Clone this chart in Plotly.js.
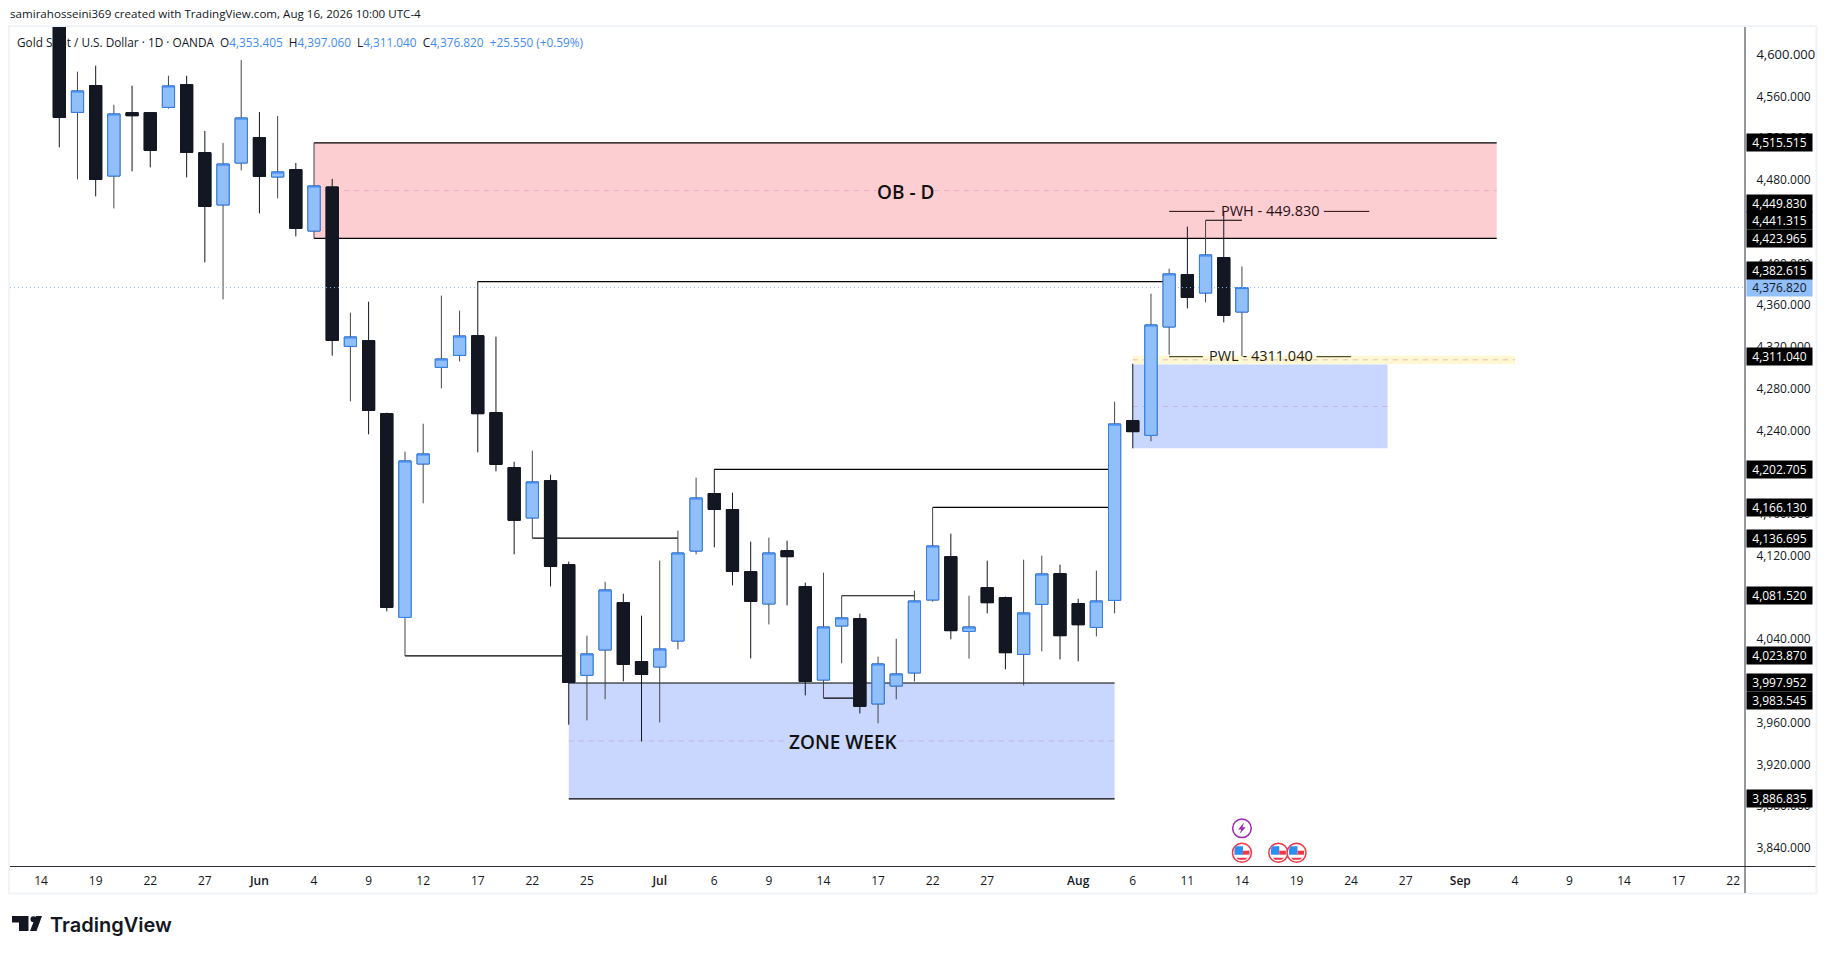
<!DOCTYPE html>
<html>
<head>
<meta charset="utf-8">
<script src="https://cdn.plot.ly/plotly-3.0.1.min.js"></script>
<style>html,body{margin:0;padding:0;background:#fff}#chart{width:1827px;height:954px}</style>
</head>
<body>
<div id="chart"></div>
<script>
// ---- candle values (one entry per trading day, left to right) ----
const opens = [4640,4544.7,4570.3,4483.7,4544.4,4544.4,4549.5,4571.2,4506.1,4456,4496.2,4520.4,4482.8,4489.8,4431,4473.2,
  4320.5,4325.9,4256,4060.8,4207.8,4300.4,4311.9,4330.7,4257,4204.3,4156.1,4191.8,4111.3,4005.3,4029.6,4074.9,4018.4,4013.3,
  4038.2,4124.4,4179.4,4164,4104.6,4073.7,4124.7,4090.2,4000.8,4052.6,4059.6,3977.9,3995.1,4007.6,4077.5,4119,4047.4,4089.3,
  4079.7,4025.4,4073.3,4102.7,4074,4051.2,4077.1,4249.3,4235.2,4339.1,4389.2,4371.6,4405.5,4353.405];
const closes = [4539.9,4565.2,4480.5,4543.2,4541.5,4508.3,4570,4506.4,4454.6,4495.2,4539.3,4483.4,4487.6,4433.5,4474.2,4326.2,
  4329.5,4259.2,4070.4,4210.7,4217.4,4308.4,4330.4,4256,4207.4,4153.8,4190.6,4109.7,3998.6,4025.8,4087.1,4015.8,4006.2,4030.5,
  4122.5,4175.2,4164.3,4104.9,4076.2,4122.5,4119,3999.5,4051.6,4060.3,3975.6,4016.2,4006.6,4076.5,4129.2,4048.1,4051.6,4074.9,
  4027,4065,4102.4,4043.3,4053.8,4076.5,4246.1,4238.8,4341,4389.9,4367.4,4408.1,4350.2,4376.82];
const highs = [4655,4583.7,4589.4,4552,4570.3,4544.4,4579.8,4579.8,4526.9,4515.4,4594.9,4545.1,4541.2,4496.2,4515.515,4480.9,
  4352.8,4363.3,4257,4219.6,4246.4,4369.1,4354.7,4382.615,4329.8,4210,4220.5,4197.6,4114.2,4043.3,4095,4083.5,4062.5,4115.2,
  4143.9,4194.7,4202.705,4180.3,4133.4,4137.2,4134.3,4094.1,4103.7,4081.52,4064.4,4023.2,4040.4,4086.4,4166.13,4141,4081.6,4115.2,
  4080.7,4116.1,4120,4111.3,4078.7,4105.6,4267.5,4303.9,4371,4394.9,4435.2,4441.315,4449.83,4397.06];
const lows = [4511.2,4480.5,4464.2,4452.7,4488.2,4492,4548.2,4482.4,4401,4365.5,4489.1,4447.9,4462.3,4425.9,4423.965,4311.6,
  4267.8,4236.2,4066.6,4023.87,4170.1,4280.2,4306.1,4218.9,4200.7,4121.2,4136.695,4090.5,3958,3962.1,3982.3,3999.5,3942,3960.2,
  4030.2,4121.2,4127.9,4091.5,4021.5,4054.1,4072.3,3986.1,3983.545,4016.8,3968.8,3959.3,3982.3,3999.5,4075.9,4039.8,4021.3,4064.7,
  4011,3995.7,4028.3,4020.6,4018.7,4042.6,4064.7,4222.8,4229.5,4312.5,4356.9,4362.6,4343.5,4311.04];

// ---- axes text ----
const dayTickIndex = [-1,2,5,8,11,14,17,20,23,26,29,33,36,39,42,45,48,51,56,59,62,65,68,71,74,77,80,83,86,89,92];
const dayTickLabels = ['14','19','22','27','Jun','4','9','12','17','22','25','Jul','6','9','14','17','22','27','Aug','6','11','14','19','24','27','Sep','4','9','14','17','22'];
const priceTicks = [3840,3880,3920,3960,4040,4120,4160,4240,4280,4320,4360,4400,4480,4520,4560,4600];

// ---- price tags on the right-hand scale (the scale pushes crowded tags apart) ----
const taggedPrices = [4515.515,4449.83,4441.315,4423.965,4382.615,4311.04,4202.705,4166.13,4136.695,4081.52,4023.87,3997.952,3983.545,3886.835];
const tagNudgePx   = [0,8,0,0,11.5,0,0,0,0,0,0,0,-2,0];
const lastPrice = 4376.82;

// ---- drawn horizontal levels: price, first and last candle index ----
const levelPrice = [4382.615,4202.705,4166.13,4136.695,4023.87,3983.545,4081.52,4441.315];
const levelFrom  = [23,36,48,26,19,42,43,63];
const levelTo    = [61,58,58,34,28,44,47,65];

// ---- zones ----
const obZone = {from:14,to:79,top:4515.515,bottom:4423.965};
const weekZone = {from:28,to:58,top:3997.952,bottom:3886.835};
const dayZone = {from:59,to:73,top:4303,bottom:4222.8};
const lowBand = {from:59,to:80,top:4311.6,bottom:4303.6};

const pwhPrice = 4449.83, pwlPrice = 4310.6;
const pwhSegments = [[61,63.5],[69.5,72]];
const pwlSegments = [[61,62.85],[69.1,71]];
const newsIdx = 65;
const flagIdx = [65,67,68];

// ---- styles / page geometry ----
const L=10,R=1745.5,T=27,B=866,WW=1827,HH=954;
const FONT='"Open Sans", sans-serif';
const DARK='#131722',UPFILL='#90bff9',UPLINE='#2f80f5',UPWICK='#474747';
const px=x=>(x-L)/(R-L), py=y=>(B-y)/(B-T);
const xRange=[(L-59.3)/18.2,(R-59.3)/18.2], yRange=[3822.6,4626.5];
const candleX=opens.map((_,i)=>i);

const wicks={type:'candlestick',x:candleX,open:opens,high:highs,low:lows,close:closes,hoverinfo:'skip',showlegend:false,
  increasing:{line:{color:UPWICK,width:1},fillcolor:UPFILL},decreasing:{line:{color:DARK,width:1},fillcolor:DARK},whiskerwidth:0};
const bodies={type:'candlestick',x:candleX,open:opens,close:closes,
  high:opens.map((o,i)=>Math.max(o,closes[i])),low:opens.map((o,i)=>Math.min(o,closes[i])),hoverinfo:'skip',showlegend:false,
  increasing:{line:{color:UPLINE,width:1},fillcolor:UPFILL},decreasing:{line:{color:DARK,width:1},fillcolor:DARK},whiskerwidth:0};

const shapes=[];
const seg=(x0,x1,y,color,width,dash,layer)=>shapes.push({type:'line',xref:'x',yref:'y',x0,x1,y0:y,y1:y,layer:layer||'below',line:{color,width:width||1.2,dash:dash||'solid'}});
const fill=(z,color)=>shapes.push({type:'rect',xref:'x',yref:'y',x0:z.from,x1:z.to,y0:z.bottom,y1:z.top,layer:'below',fillcolor:color,line:{width:0}});
fill(obZone,'#fccdd1'); fill(weekZone,'#c9d6fd'); fill(dayZone,'#c9d6fd'); fill(lowBand,'#fff8d0');
seg(obZone.from,obZone.to,obZone.top,'#000'); seg(obZone.from,obZone.to,obZone.bottom,'#000');
seg(weekZone.from,weekZone.to,weekZone.top,'#000'); seg(weekZone.from,weekZone.to,weekZone.bottom,'#000');
seg(obZone.from,obZone.to,(obZone.top+obZone.bottom)/2,'#e8a9cb',1,'5px,5px');
seg(weekZone.from,weekZone.to,(weekZone.top+weekZone.bottom)/2,'#c3b4e3',1,'5px,5px');
seg(dayZone.from,dayZone.to,(dayZone.top+dayZone.bottom)/2,'#c3b4e3',1,'5px,5px');
seg(lowBand.from,lowBand.to,(lowBand.top+lowBand.bottom)/2,'#e9b9c6',1,'5px,5px');
levelPrice.forEach((p,i)=>seg(levelFrom[i],levelTo[i],p,'#000'));
pwhSegments.forEach(s=>seg(s[0],s[1],pwhPrice,'#2a0a0a',1));
pwlSegments.forEach(s=>seg(s[0],s[1],pwlPrice,'#2a2a0a',1));
shapes.push({type:'line',xref:'paper',yref:'y',x0:0,x1:1,y0:lastPrice,y1:lastPrice,layer:'above',line:{color:'#8fbdf8',width:1,dash:'1px,3px'}});

// frame, scale borders
const paperRect=(x0,y0,x1,y1,o)=>shapes.push(Object.assign({type:'rect',xref:'paper',yref:'paper',x0:px(x0),x1:px(x1),y0:py(y1),y1:py(y0),layer:'above'},o));
const paperLine=(x0,y0,x1,y1,c,w)=>shapes.push({type:'line',xref:'paper',yref:'paper',x0:px(x0),x1:px(x1),y0:py(y0),y1:py(y1),layer:'above',line:{color:c,width:w}});
paperRect(9,26,1817,893.5,{line:{color:'#f0f3fa',width:2}});
paperLine(10,866.5,1816,866.5,'#2a2e39',1);
paperLine(1745.5,27,1745.5,893,'#2a2e39',1);

// TradingView logo
const pathOf=pts=>'M'+pts.map(p=>px(p[0])+','+py(p[1])).join('L')+'Z';
const pathShape=(pts,c)=>shapes.push({type:'path',xref:'paper',yref:'paper',path:pathOf(pts),fillcolor:c,line:{width:0},layer:'above'});
pathShape([[12,916],[28.5,916],[28.5,931],[19,931],[19,922.5],[12,922.5]],'#131722');
shapes.push({type:'circle',xref:'paper',yref:'paper',x0:px(30.5),x1:px(36.5),y0:py(922.3),y1:py(916.3),fillcolor:'#131722',line:{width:0},layer:'above'});
pathShape([[36,916],[42,916],[36.5,931],[30,931]],'#131722');

// event markers under the candles
const cxOf=i=>59.3+18.2*i;
const circle=(cx,cy,r,f,c,w)=>shapes.push({type:'circle',xref:'paper',yref:'paper',x0:px(cx-r),x1:px(cx+r),y0:py(cy+r),y1:py(cy-r),fillcolor:f,line:{color:c,width:w},layer:'above'});
circle(cxOf(newsIdx),828.3,9.3,'#fff','#9c27b0',1.5);
pathShape([[1244.5,822.5],[1238.5,829.5],[1241.7,829.5],[1240,834],[1246,827.3],[1242.8,827.3]],'#9c27b0');
flagIdx.forEach(i=>{
  const c=cxOf(i),y=852.7;
  circle(c,y,9.5,'#fff','#f23645',1.5);
  pathShape([[c-6.5,y-6.5],[c+1,y-6.5],[c+1,y+2],[c-7.5,y+2],[c-7.5,y-3]],'#2e8ef0');
  pathShape([[c+1,y-2],[c+7.5,y-2],[c+7.5,y+2],[c+1,y+2]],'#f23645');
  pathShape([[c-5.5,y+5],[c+5.5,y+5],[c+3.5,y+7],[c-3.5,y+7]],'#f23645');
});

const annotations=[];
const fmt=p=>p.toLocaleString('en-US',{minimumFractionDigits:3,maximumFractionDigits:3});
const tag=(p,bg,col,nudge)=>annotations.push({xref:'paper',x:1,xanchor:'left',xshift:0.5,yref:'y',y:p,yanchor:'middle',yshift:nudge||0,text:fmt(p),
  showarrow:false,bgcolor:bg,width:65,height:17,borderpad:0,align:'center',font:{family:FONT,size:12,color:col}});
tag(lastPrice,UPFILL,'#131722',0);
taggedPrices.forEach((p,i)=>tag(p,'#000','#fff',tagNudgePx[i]));
const note=(text,x,y,xref,yref,o)=>annotations.push(Object.assign({text,x,y,xref,yref,showarrow:false,font:{family:FONT,size:12,color:DARK}},o||{}));
const B1='<span style="color:#3f8cf5">';
note('samirahosseini369 created with TradingView.com, Aug 16, 2026 10:00 UTC-4',px(8),py(14),'paper','paper',{xanchor:'left',yanchor:'middle',font:{family:FONT,size:11.6,color:'#131722'}});
note('Gold Spot / U.S. Dollar · 1D · OANDA  O'+B1+'4,353.405</span>  H'+B1+'4,397.060</span>  L'+B1+'4,311.040</span>  C'+B1+'4,376.820</span>  '+B1+'+25.550 (+0.59%)</span>',px(15.5),py(41.7),'paper','paper',{xanchor:'left',yanchor:'middle',font:{family:FONT,size:11.8,color:DARK}});
note('OB - D',(obZone.from+obZone.to)/2,(obZone.top+obZone.bottom)/2,'x','y',{yshift:-1,bgcolor:'#fccdd1',font:{family:FONT,size:19,color:'#111',weight:600},borderpad:0});
note('ZONE WEEK',(weekZone.from+weekZone.to)/2+0.05,(weekZone.top+weekZone.bottom)/2,'x','y',{yshift:-1.5,bgcolor:'#c9d6fd',font:{family:FONT,size:19,color:'#111',weight:600},borderpad:0});
note('PWH - 449.830',66.58,pwhPrice,'x','y',{yshift:1,font:{family:FONT,size:14.5,color:'#2a0f12',weight:500}});
note('PWL - 4311.040',66.02,pwlPrice,'x','y',{yshift:1,font:{family:FONT,size:14.5,color:'#1c1c10',weight:500}});
note('TradingView',px(48.5),py(924.5),'paper','paper',{xanchor:'left',yanchor:'middle',font:{family:'Inter, sans-serif',size:20,color:'#131722',weight:600}});

const layout={
  width:WW,height:HH,paper_bgcolor:'#fff',plot_bgcolor:'#fff',showlegend:false,dragmode:false,hovermode:false,
  boxgap:0.33,boxgroupgap:0,
  margin:{l:L,r:WW-R,t:T,b:HH-B,pad:0},
  xaxis:{type:'linear',range:xRange,tickmode:'array',tickvals:dayTickIndex,
    ticktext:dayTickLabels.map(t=>/[A-Z]/.test(t)?'<span style="font-weight:600">'+t+'</span>':t),
    showgrid:false,zeroline:false,showline:false,ticks:'outside',ticklen:4,tickcolor:'rgba(0,0,0,0)',tickangle:0,
    rangeslider:{visible:false},tickfont:{family:FONT,size:12,color:'#131722'}},
  yaxis:{side:'right',range:yRange,tickmode:'array',tickvals:priceTicks,
    ticktext:priceTicks.map(p=>{const s=fmt(p);return p===4600?'<span style="font-size:13px">'+s+'</span>':s;}),
    showgrid:false,zeroline:false,showline:false,ticks:'outside',ticklen:8,tickcolor:'rgba(0,0,0,0)',
    tickfont:{family:FONT,size:12,color:'#131722'}},
  shapes,annotations
};
Plotly.newPlot('chart',[wicks,bodies],layout,{displayModeBar:false,staticPlot:true});
</script>
</body>
</html>
